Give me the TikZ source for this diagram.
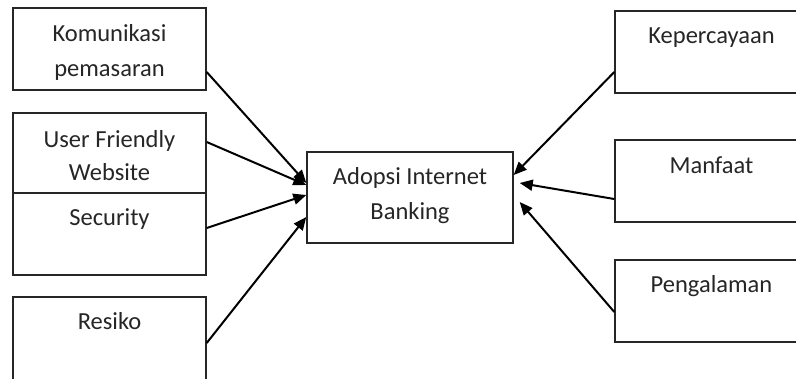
\documentclass[tikz,border=0pt]{standalone}
\usepackage{fontspec}
\setmainfont{Carlito}
\usetikzlibrary{arrows.meta}

\tikzset{
  box/.style={draw=black!85, line width=1.4pt, rectangle, minimum width=193pt, inner sep=0pt},
  txt/.style={font=\fontsize{24.5}{35}\selectfont, text=black!85, inner sep=0pt, anchor=base},
  arr/.style={draw=black, line width=2pt, -{Triangle[length=13pt,width=11pt]}}
}

\begin{document}
\begin{tikzpicture}[x=1pt, y=-1pt]
  \clip (0,0) rectangle (796,378);
  \fill[white] (0,0) rectangle (796,378);

  % left-hand factors
  \node[box, minimum height=82pt] (kom) at (109.5,49) {};
  \node[box, minimum height=80pt] (uf)  at (109.5,153) {};
  \node[box, minimum height=82pt] (sec) at (109.5,234) {};
  \node[box, minimum height=84pt] (res) at (109.5,339) {};

  % central construct
  \node[box, minimum width=206pt, minimum height=91pt] (adopt) at (410,197.5) {};

  % right-hand factors
  \node[box, minimum height=82pt] (kep) at (711.5,52) {};
  \node[box, minimum height=82pt] (man) at (711.5,181) {};
  \node[box, minimum height=82pt] (pen) at (711.5,301) {};

  % labels
  \node[txt] (komA) at (109.5,41) {Komunikasi};
  \node[txt] (komB) at (109.5,76) {pemasaran};
  \node[txt] (ufA)  at (109.5,147) {User Friendly};
  \node[txt] (ufB)  at (109.5,180) {Website};
  \node[txt] (secT) at (109.5,225) {Security};
  \node[txt] (resT) at (109.5,329) {Resiko};
  \node[txt] (adA)  at (410,184) {Adopsi Internet};
  \node[txt] (adB)  at (410,219) {Banking};
  \node[txt] (kepT) at (711.5,43) {Kepercayaan};
  \node[txt] (manT) at (711.5,173) {Manfaat};
  \node[txt] (penT) at (711.5,292) {Pengalaman};

  % influences
  \draw[arr] ([yshift=-23pt]kom.east) -- ([yshift=14.5pt]adopt.west);
  \draw[arr] ([yshift=11pt]uf.east)   -- ([yshift=12.5pt]adopt.west);
  \draw[arr] ([yshift=6pt]sec.east)   -- ([yshift=2.5pt]adopt.west);
  \draw[arr] ([yshift=-4pt]res.east)  -- ([yshift=-19.5pt]adopt.west);
  \draw[arr] ([yshift=-20pt]kep.west) -- ([yshift=22.5pt]adopt.east);
  \draw[arr] ([yshift=-18pt]man.west) -- ([xshift=6pt,yshift=14.5pt]adopt.east);
  \draw[arr] ([yshift=-11pt]pen.west) -- ([xshift=6pt,yshift=-4.5pt]adopt.east);
\end{tikzpicture}
\end{document}
